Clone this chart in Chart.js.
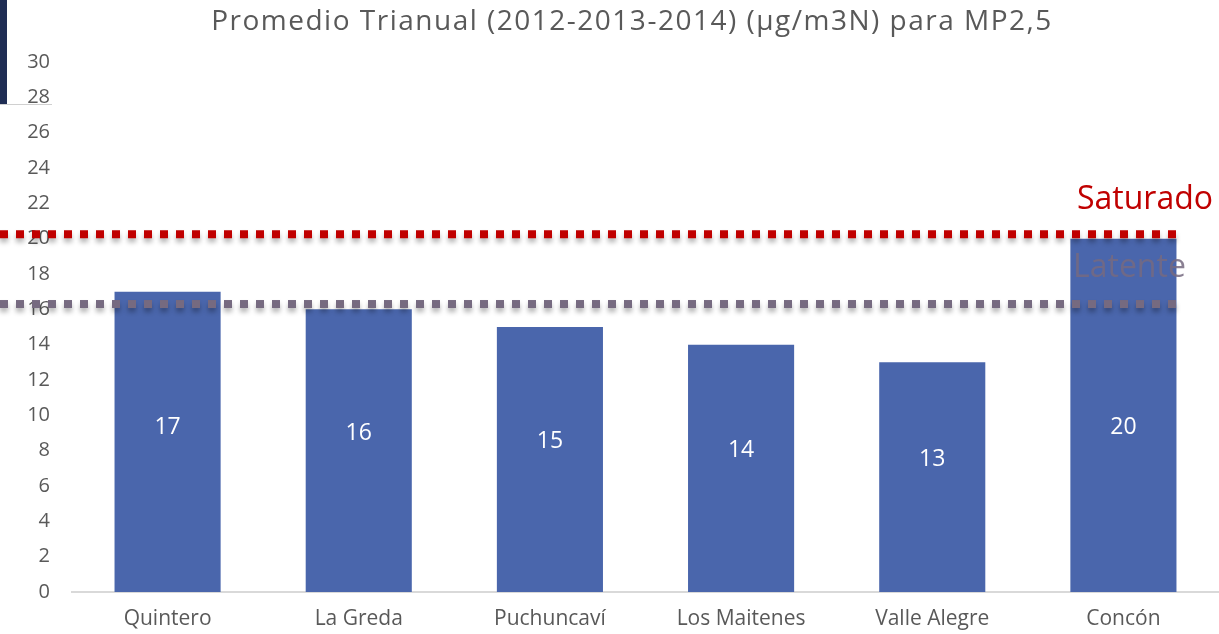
<!DOCTYPE html>
<html>
<head>
<meta charset="utf-8">
<script src="https://cdn.jsdelivr.net/npm/chart.js@4"></script>
<style>
  html, body { margin: 0; padding: 0; background: #fff; }
  #wrap { position: relative; width: 1219px; height: 634px; }
  #side { position: absolute; left: 0; top: 0; width: 7px; height: 104px; background: #1f2d54; }
  #sep { position: absolute; left: 0; top: 104px; width: 52px; height: 1px; background: #d0d0d0; }
</style>
</head>
<body>
<div id="wrap">
  <canvas id="mpChart" width="1219" height="634"></canvas>
  <div id="side"></div>
  <div id="sep"></div>
</div>
<script>
// data
const estaciones = ['Quintero', 'La Greda', 'Puchuncaví', 'Los Maitenes', 'Valle Alegre', 'Concón'];
const promedios = [17, 16, 15, 14, 13, 20];
const limiteNombres = ['Saturado', 'Latente'];
const limiteValores = [20.25, 16.3];
const yTicks = [0, 2, 4, 6, 8, 10, 12, 14, 16, 18, 20, 22, 24, 26, 28, 30];
const titulo = 'Promedio Trianual (2012-2013-2014) (µg/m3N) para MP2,5';

// title, dotted threshold lines with their labels, and bar values
const limitesPlugin = {
    id: 'limites',
    afterDatasetsDraw(chart) {
        const ctx = chart.ctx;
        const y = chart.scales.y;
        const colors = ['#c00000', '#766a80'];
        const textColors = ['#c00000', 'rgba(118,106,128,0.85)'];

        // title
        ctx.save();
        ctx.fillStyle = '#595959';
        ctx.font = '28px "Open Sans"';
        ctx.letterSpacing = '1.5px';
        ctx.textAlign = 'center';
        ctx.textBaseline = 'middle';
        ctx.fillText(titulo, 632, 22);
        ctx.restore();

        // value labels inside bars (sit a bit above mid-bar, never above ~9.3)
        const meta = chart.getDatasetMeta(0);
        ctx.save();
        ctx.fillStyle = '#ffffff';
        ctx.font = '23px "Open Sans"';
        ctx.textAlign = 'center';
        ctx.textBaseline = 'middle';
        meta.data.forEach((bar, i) => {
            const ly = y.getPixelForValue(Math.min(promedios[i] / 2 + 1, 9.3));
            ctx.fillText(String(promedios[i]), bar.x, ly);
        });
        ctx.restore();

        limiteValores.forEach((v, i) => {
            const py = y.getPixelForValue(v);
            ctx.save();
            ctx.shadowColor = 'rgba(0,0,0,0.3)';
            ctx.shadowBlur = 5;
            ctx.shadowOffsetY = 4;
            ctx.fillStyle = colors[i];
            for (let x = 0; x < 1180; x += 16) {
                ctx.fillRect(x, py - 4, 8, 8);
            }
            ctx.restore();

            ctx.save();
            ctx.fillStyle = textColors[i];
            ctx.font = '32px "Open Sans"';
            ctx.textAlign = 'left';
            ctx.textBaseline = 'middle';
            const ty = i === 0 ? py - 34 : py - 36;
            ctx.fillText(limiteNombres[i], i === 0 ? 1077 : 1073, ty);
            ctx.restore();
        });
    }
};

const ctx = document.getElementById('mpChart').getContext('2d');
const mpChart = new Chart(ctx, {
    type: 'bar',
    data: {
        labels: estaciones,
        datasets: [{
            label: 'MP2,5',
            data: promedios,
            backgroundColor: '#4a66ac',
            barPercentage: 0.555,
            categoryPercentage: 1.0
        }]
    },
    options: {
        responsive: false,
        animation: false,
        layout: {
            padding: { left: 0, right: 0, top: 62, bottom: 0 }
        },
        plugins: {
            legend: { display: false },
            tooltip: { enabled: false },
            title: { display: false }
        },
        scales: {
            x: {
                afterFit(scale) { scale.height = 42; },
                grid: { display: false, drawTicks: false },
                border: { display: true, color: '#d9d9d9', width: 2 },
                ticks: {
                    color: '#595959',
                    font: { family: '"Open Sans"', size: 21 },
                    padding: 14
                }
            },
            y: {
                min: 0,
                max: 30,
                afterBuildTicks(scale) {
                    scale.ticks = yTicks.map(v => ({ value: v }));
                },
                afterFit(scale) { scale.width = 72; },
                grid: { display: false, drawTicks: false },
                border: { display: false },
                ticks: {
                    color: '#595959',
                    font: { family: '"Open Sans"', size: 20 },
                    padding: 22
                }
            }
        }
    },
    plugins: [limitesPlugin]
});
</script>
</body>
</html>
